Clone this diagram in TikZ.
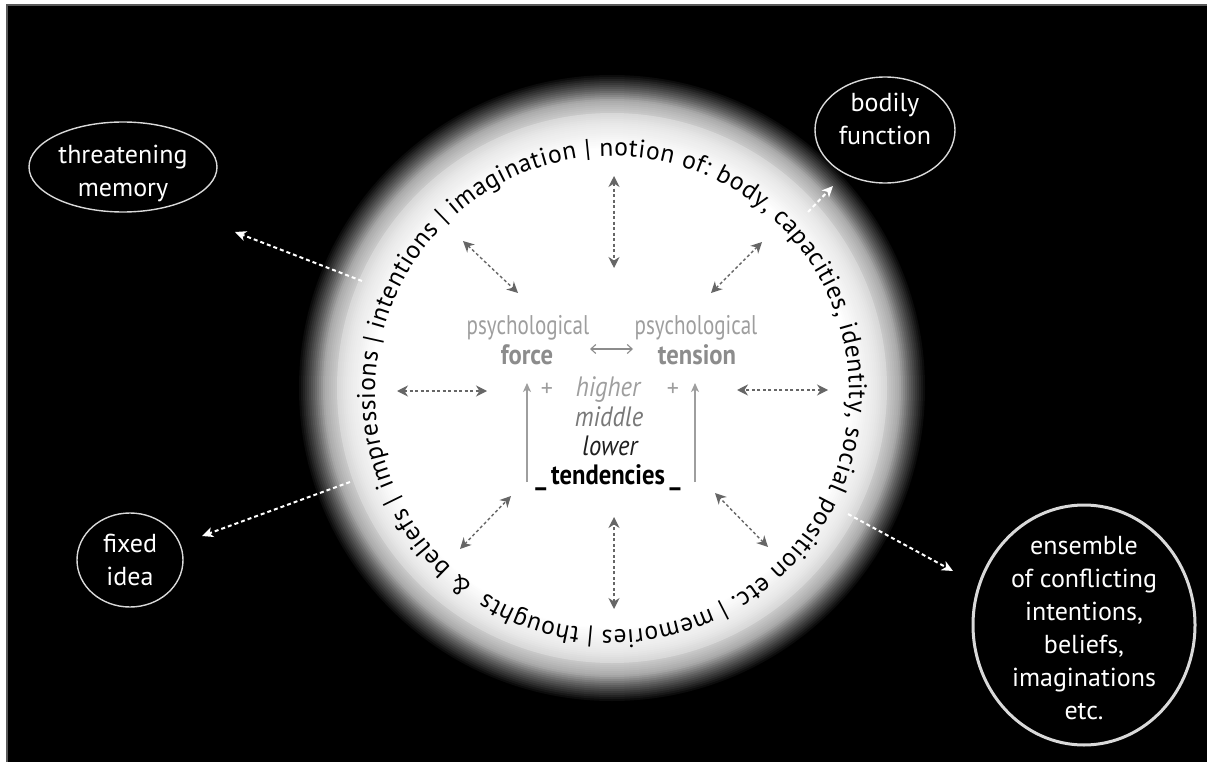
\documentclass[tikz,border=0pt]{standalone}
\usepackage{fontspec}
\setmainfont{PT Sans}
\newfontfamily\narrowfont[FakeStretch=0.78]{PT Sans}
\newfontfamily\semifont[FakeStretch=0.88]{PT Sans}
\usetikzlibrary{arrows.meta,decorations.text}

\newcommand\ringsize{\fontsize{25.5}{30}\selectfont}
\newcommand\outersize{\fontsize{26}{33}\selectfont}
\newcommand\coresize{\narrowfont\fontsize{27}{30}\selectfont}
\newcommand\semisize{\semifont\fontsize{28}{30}\selectfont}

\definecolor{dashgray}{gray}{0.40}
\definecolor{palegray}{gray}{0.62}
\definecolor{midgray}{gray}{0.55}
\definecolor{darkmid}{gray}{0.47}
\definecolor{rimgray}{gray}{0.85}

\begin{document}
\begin{tikzpicture}[x=1pt,y=1pt,
  labeltext/.style={text=white, align=center, inner sep=0pt, font=\outersize},
  outline/.style={draw=rimgray, line width=1.4pt},
  outflow/.style={draw=white, line width=2pt, dash pattern=on 4pt off 3pt,
    -{Stealth[length=11pt,width=10pt,inset=3pt]}},
  inflow/.style={draw=dashgray, line width=1.4pt, dash pattern=on 3pt off 2.5pt,
    {Stealth[length=11pt,width=11pt,inset=3.5pt]}-{Stealth[length=11pt,width=11pt,inset=3.5pt]}},
  rise/.style={draw=palegray, line width=1.2pt, -{Stealth[length=9pt,width=8pt,inset=2.5pt]}},
  coreword/.style={anchor=base, inner sep=0pt, font=\coresize},
  semiword/.style={anchor=base, inner sep=0pt, font=\semisize},
]
% page and black ground
\useasboundingbox (0,0) rectangle (1207,-762);
\fill[white] (0,0) rectangle (1207,-762);
\fill[black, draw=black!65, line width=1.2pt] (7,-5) rectangle (1215,-770);

% halo: concentric discs from the black ground to the white core
\coordinate (halo) at (612,-388);
\foreach \rad in {315,313,...,241} {
  \pgfmathsetmacro\lum{\rad>=308 ? 0.16*(315-\rad)/7 :
    (\rad>=298 ? 0.16+0.23*(308-\rad)/10 :
    (\rad>=288 ? 0.39+0.28*(298-\rad)/10 :
    (\rad>=277 ? 0.67+0.11*(288-\rad)/11 :
    (\rad>=265 ? 0.84+0.07*(276-\rad)/11 : 0.91+0.09*(265-\rad)/25))))}
  \definecolor{halostep}{gray}{\lum}
  \fill[halostep] (halo) circle[radius=\rad];
}
\fill[white] (halo) circle[radius=240];

% ring of contents
\coordinate (ring) at (612,-393);
\path[decorate, decoration={text along path,
    text format delimiters={<}{>}, text color=black, text align={fit to path},
    text={<\ringsize>impressions | intentions | imagination | notion of: body, capacities, identity, social position etc. | memories | thoughts {\kern5pt}{\&} beliefs |}}]
  ([shift={(ring)}]203:237) arc[start angle=203, end angle=-154.5, radius=237];

% outer satellites
\node[labeltext] (threat) at (123,-173) {threatening\\memory};
\draw[outline] (123,-167) ellipse [x radius=94, y radius=45];
\node[labeltext] (bodily) at (885,-119) {bodily\\function};
\draw[outline] (885,-130) ellipse [x radius=70, y radius=53];
\node[labeltext] (fixed) at (130,-560) {fixed\\idea};
\draw[outline] (130,-560) ellipse [x radius=53, y radius=47];
\node[labeltext] (ensemble) at (1084,-628) {ensemble\\of conflicting\\intentions,\\beliefs,\\imaginations\\etc.};
\draw[outline, line width=3pt] (1084,-625) ellipse [x radius=111, y radius=120];

% arrows leaving the ring
\coordinate (t0) at (362,-281); \coordinate (t1) at (235,-232);
\coordinate (b0) at (808,-212); \coordinate (b1) at (833,-186);
\coordinate (f0) at (350,-482); \coordinate (f1) at (202,-536);
\coordinate (e0) at (848,-514); \coordinate (e1) at (953,-571);
\draw[outflow] (t0) -- (t1);
\draw[outflow] (b0) -- (b1);
\draw[outflow] (f0) -- (f1);
\draw[outflow] (e0) -- (e1);

% exchanges between ring and core
\coordinate (n0) at (614,-176); \coordinate (n1) at (614,-268);
\coordinate (nw0) at (463,-241); \coordinate (nw1) at (518,-293);
\coordinate (ne0) at (762,-242); \coordinate (ne1) at (711,-293);
\coordinate (w0) at (397,-391); \coordinate (w1) at (487,-391);
\coordinate (e0i) at (828,-390); \coordinate (e1i) at (737,-390);
\coordinate (sw0) at (460,-549); \coordinate (sw1) at (511,-496);
\coordinate (se0) at (768,-547); \coordinate (se1) at (715,-493);
\coordinate (s0) at (614,-609); \coordinate (s1) at (614,-517);
\draw[inflow] (n0) -- (n1);
\draw[inflow] (nw0) -- (nw1);
\draw[inflow] (ne0) -- (ne1);
\draw[inflow] (w0) -- (w1);
\draw[inflow] (e0i) -- (e1i);
\draw[inflow] (sw0) -- (sw1);
\draw[inflow] (se0) -- (se1);
\draw[inflow] (s0) -- (s1);

% core
\node[coreword, text=palegray] (psyL) at (528,-334) {psychological};
\node[semiword, text=midgray] (force) at (527,-364) {\bfseries force};
\node[coreword, text=palegray] (psyR) at (696,-334) {psychological};
\node[semiword, text=midgray] (tension) at (697,-364) {\bfseries tension};
\node[semiword, text=palegray] (higher) at (608,-396) {\itshape higher};
\node[semiword, text=darkmid] (middle) at (609,-426) {\itshape middle};
\node[semiword, text=black!88] (lower) at (610,-455) {\itshape lower};
\node[semiword, text=black] (tend) at (608,-484) {\bfseries \_\,tendencies\,\_};
\node[anchor=center, inner sep=0pt, text=palegray, font=\fontsize{24}{24}\selectfont] (plusL) at (547,-390) {+};
\node[anchor=center, inner sep=0pt, text=palegray, font=\fontsize{24}{24}\selectfont] (plusR) at (673,-390) {+};

\coordinate (ft0) at (590,-349); \coordinate (ft1) at (633,-349);
\draw[draw=midgray, line width=1.1pt, {Straight Barb[length=5pt,width=9pt]}-{Straight Barb[length=5pt,width=9pt]}] (ft0) -- (ft1);
\coordinate (rl0) at (527,-482); \coordinate (rl1) at (527,-383);
\coordinate (rr0) at (695,-482); \coordinate (rr1) at (695,-383);
\draw[rise] (rl0) -- (rl1);
\draw[rise] (rr0) -- (rr1);
\end{tikzpicture}
\end{document}
